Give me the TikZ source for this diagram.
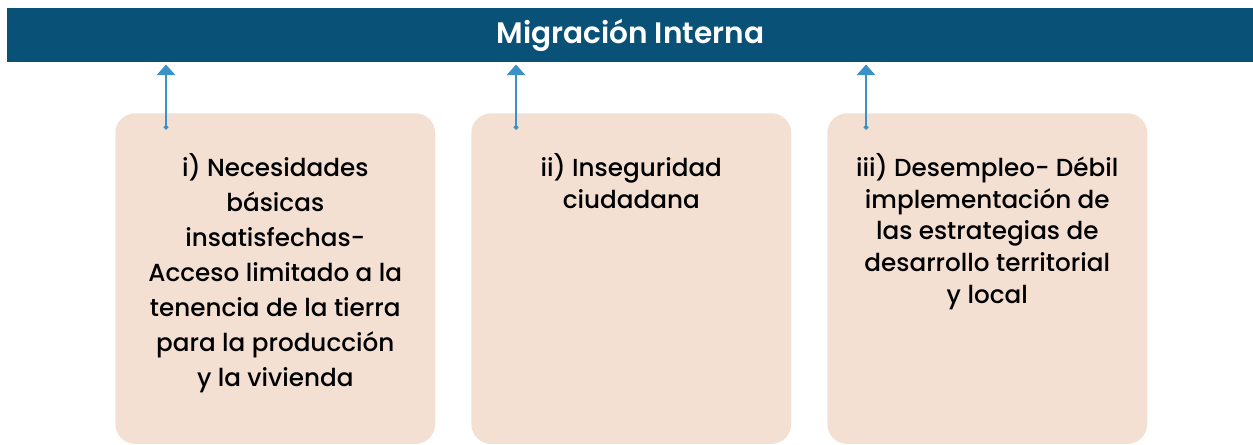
\documentclass[tikz,border=0pt]{standalone}
\usepackage{fontspec}
\setmainfont{Poppins}[UprightFont=* Medium, BoldFont=* SemiBold]
\usetikzlibrary{arrows.meta}

\definecolor{hdrblue}{HTML}{0A5177}
\definecolor{boxfill}{HTML}{F3E0D2}
\definecolor{linkblue}{HTML}{3A92C8}

\begin{document}
\begin{tikzpicture}[x=0.75pt,y=-0.75pt,
  cause/.style={fill=boxfill, rounded corners=15pt, minimum width=240pt, minimum height=248pt, inner sep=0pt, anchor=north west},
  causetext/.style={anchor=north, align=center, inner sep=0pt},
  link/.style={draw=linkblue, line width=1.1pt, {Diamond[width=4pt,length=4pt]}-{Triangle[width=14pt,length=8pt]}}]
\useasboundingbox (0,0) rectangle (1253,445);

% Header
\node[fill=hdrblue, minimum width=934.5pt, minimum height=40.5pt, inner sep=0pt, anchor=north west,
      text=white, font=\fontsize{22.2}{24}\selectfont\bfseries] (hdr) at (7,8) {Migración Interna};

% Causes
\node[cause] (b1) at (115,113) {};
\node[cause] (b2) at (471,113) {};
\node[cause] (b3) at (827,113) {};

\node[causetext, font=\fontsize{18.5}{26.3}\selectfont] (t1) at (b1.north |- 0,153)
  {i) Necesidades\\ básicas\\ insatisfechas-\\ Acceso limitado a la\\ tenencia de la tierra\\ para la producción\\ y la vivienda};
\node[causetext, font=\fontsize{18.5}{23.8}\selectfont] (t2) at (b2.north |- 0,153)
  {ii) Inseguridad\\ ciudadana};
\node[causetext, font=\fontsize{18.5}{23.8}\selectfont] (t3) at (b3.north |- 0,153)
  {iii) Desempleo- Débil\\ implementación de\\ las estrategias de\\ desarrollo territorial\\ y local};

% Links
\coordinate (a1) at (166,130);
\coordinate (a2) at (516,130);
\coordinate (a3) at (866,130);
\foreach \i in {1,2,3}
  \draw[link] (a\i) -- ([yshift=-1.5pt]a\i |- hdr.south);

\end{tikzpicture}
\end{document}
